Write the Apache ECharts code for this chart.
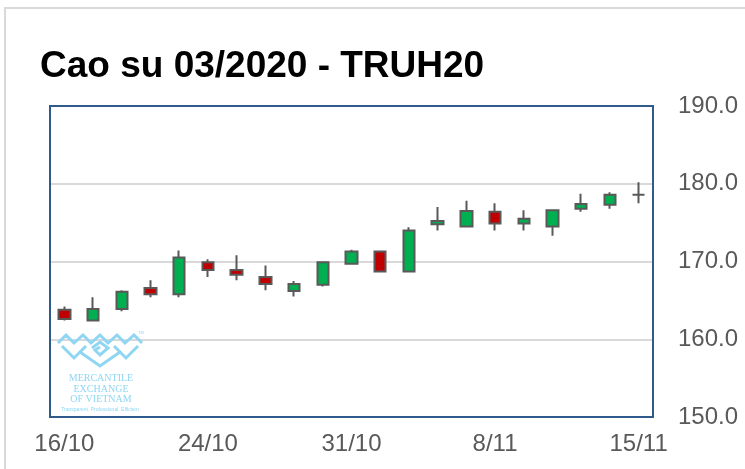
<!DOCTYPE html>
<html>
<head>
<meta charset="utf-8">
<script src="https://cdn.jsdelivr.net/npm/echarts@6/dist/echarts.min.js"></script>
<style>
  html, body { margin: 0; padding: 0; background: #fff; }
  #chart { width: 745px; height: 469px; }
</style>
</head>
<body>
<div id="chart"></div>
<script>
// Cao su 03/2020 - TRUH20, nến ngày
var dates = ['16/10', '17/10', '18/10', '21/10', '22/10', '24/10', '25/10', '28/10', '29/10', '30/10',
             '31/10', '1/11', '4/11', '5/11', '6/11', '8/11', '11/11', '12/11', '13/11', '14/11', '15/11'];
var opens  = [163.8, 162.4, 163.9, 166.6, 165.8, 169.9, 168.9, 168.0, 166.2, 167.0,
              169.7, 171.3, 168.7, 174.8, 174.5, 176.4, 174.9, 174.5, 176.8, 177.3, 178.6];
var closes = [162.6, 163.9, 166.1, 165.8, 170.5, 168.9, 168.3, 167.1, 167.1, 169.9,
              171.3, 168.7, 174.0, 175.2, 176.5, 174.9, 175.5, 176.6, 177.4, 178.6, 178.6];
var lows   = [162.4, 162.3, 163.6, 165.4, 165.4, 168.0, 167.6, 166.3, 165.5, 166.8,
              169.6, 168.6, 168.6, 174.0, 174.4, 174.0, 174.0, 173.3, 176.4, 176.8, 177.5];
var highs  = [164.2, 165.4, 166.3, 167.6, 171.4, 170.3, 170.8, 169.5, 167.5, 169.9,
              171.5, 171.3, 174.4, 177.0, 177.8, 177.5, 176.6, 176.6, 178.7, 178.9, 180.2];
var yTicks = [150, 160, 170, 180, 190];

var candles = [];
for (var i = 0; i < dates.length; i++) {
    candles.push([opens[i], closes[i], lows[i], highs[i]]);
}

var logoBlue = '#8fd6f2';

var myChart = echarts.init(document.getElementById('chart'));
var option = {
    animation: false,
    backgroundColor: '#fff',
    title: {
        text: 'Cao su 03/2020 - TRUH20',
        left: 35,
        top: 43,
        textStyle: {
            fontFamily: 'Liberation Sans',
            fontWeight: 'bold',
            fontSize: 37,
            color: '#000'
        }
    },
    grid: {
        left: 50,
        right: 92,
        top: 106,
        bottom: 52,
        show: true,
        borderColor: '#2f5b8c',
        borderWidth: 2,
        z: 3
    },
    xAxis: {
        type: 'category',
        data: dates,
        boundaryGap: true,
        axisLine: { show: false },
        axisTick: { show: false },
        splitLine: { show: false },
        axisLabel: {
            interval: 4,
            margin: 15,
            color: '#595959',
            fontFamily: 'Liberation Sans',
            fontSize: 24
        }
    },
    yAxis: {
        type: 'value',
        position: 'right',
        min: yTicks[0],
        max: yTicks[yTicks.length - 1],
        interval: 10,
        axisLine: { show: false },
        axisTick: { show: false },
        axisLabel: {
            margin: 25,
            color: '#595959',
            fontFamily: 'Liberation Sans',
            fontSize: 24,
            formatter: function (v) { return v.toFixed(1); }
        },
        splitLine: {
            show: true,
            lineStyle: { color: '#d9d9d9', width: 2 }
        }
    },
    graphic: [
        {   // khung ngoài
            type: 'rect', silent: true, z: 0,
            shape: { x: 5, y: 8, width: 800, height: 500 },
            style: { fill: 'none', stroke: '#d9d9d9', lineWidth: 2 }
        },
        // logo MXV
        { type: 'polyline', silent: true, z: 1, shape: { points: [[58,343],[66,335],[74,343],[83,335],[91,343],[100,335],[108,343],[117,335],[125,343],[134,335],[142,343]] },
          style: { stroke: logoBlue, lineWidth: 3, fill: 'none' } },
        { type: 'polyline', silent: true, z: 1, shape: { points: [[62,346],[74,358],[86,346]] },
          style: { stroke: logoBlue, lineWidth: 3, fill: 'none' } },
        { type: 'polyline', silent: true, z: 1, shape: { points: [[114,346],[126,358],[138,346]] },
          style: { stroke: logoBlue, lineWidth: 3, fill: 'none' } },
        { type: 'polyline', silent: true, z: 1, shape: { points: [[80,352],[100,366],[120,352]] },
          style: { stroke: logoBlue, lineWidth: 3, fill: 'none' } },
        { type: 'polyline', silent: true, z: 1, shape: { points: [[92,348],[100,342],[108,348],[100,355],[95,350],[100,347]] },
          style: { stroke: logoBlue, lineWidth: 3, fill: 'none' } },
        { type: 'text', silent: true, z: 1, x: 138, y: 331, style: { text: 'TM', fill: logoBlue, fontSize: 4, fontFamily: 'Liberation Sans' } },
        { type: 'text', silent: true, z: 1, x: 101, y: 378, style: { text: 'MERCANTILE', fill: logoBlue, fontSize: 10, fontFamily: 'Liberation Serif', align: 'center', verticalAlign: 'middle' } },
        { type: 'text', silent: true, z: 1, x: 101, y: 389, style: { text: 'EXCHANGE', fill: logoBlue, fontSize: 10, fontFamily: 'Liberation Serif', align: 'center', verticalAlign: 'middle' } },
        { type: 'text', silent: true, z: 1, x: 101, y: 399, style: { text: 'OF VIETNAM', fill: logoBlue, fontSize: 10, fontFamily: 'Liberation Serif', align: 'center', verticalAlign: 'middle' } },
        { type: 'text', silent: true, z: 1, x: 100, y: 410, style: { text: 'Transparent. Professional. Efficient', fill: logoBlue, fontSize: 5, fontFamily: 'Liberation Sans', align: 'center', verticalAlign: 'middle' } }
    ],
    series: [
        {
            type: 'candlestick',
            data: candles,
            barWidth: 12,
            z: 5,
            itemStyle: {
                color: '#00b050',
                color0: '#c00000',
                borderColor: '#595959',
                borderColor0: '#595959',
                borderColorDoji: '#595959',
                borderWidth: 2
            }
        }
    ]
};
myChart.setOption(option);
</script>
</body>
</html>
